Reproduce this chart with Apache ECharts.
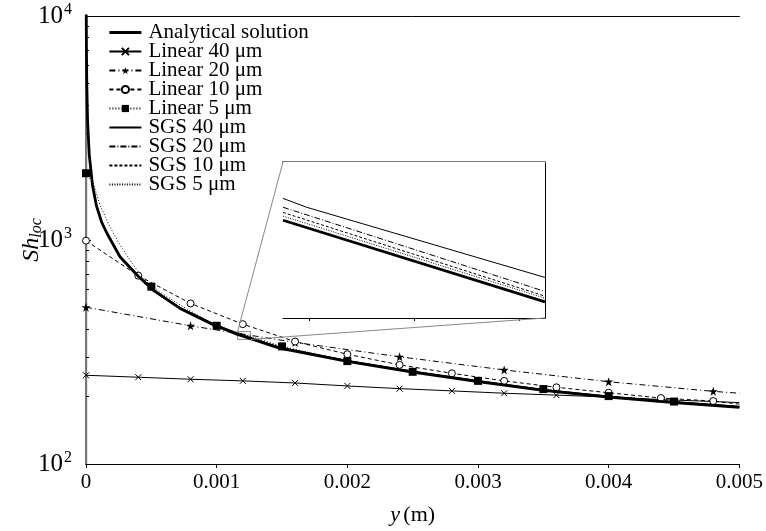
<!DOCTYPE html>
<html><head><meta charset="utf-8">
<script src="https://cdn.jsdelivr.net/npm/echarts@6/dist/echarts.min.js"></script>
<style>html,body{margin:0;padding:0;background:#fff}#c{width:766px;height:531px}</style>
</head><body><div id="c"></div>
<script>
// ---- data ----
const xTickLabels = ['0', '0.001', '0.002', '0.003', '0.004', '0.005'];
const seriesNames = ['Analytical solution', 'Linear 40 \u03bcm', 'Linear 20 \u03bcm', 'Linear 10 \u03bcm', 'Linear 5 \u03bcm', 'SGS 40 \u03bcm', 'SGS 20 \u03bcm', 'SGS 10 \u03bcm', 'SGS 5 \u03bcm'];

const analyticX = [0.000001, 0.000003, 0.000006, 0.000012, 0.000025, 0.00005, 0.00008, 0.00012, 0.00016, 0.00026, 0.00039, 0.00051, 0.00072, 0.00097, 0.00116, 0.00126, 0.00148, 0.002, 0.0025, 0.003, 0.0035, 0.004, 0.0045, 0.005];
const analyticY = [13000, 7500, 5000, 3400, 2400, 1750, 1420, 1200, 1072, 842, 698, 599, 495, 420, 379, 363, 329, 287, 257, 233, 213, 199, 188, 179];
const sgs40Y = [13100, 7580, 5060, 3440, 2430, 1770, 1436, 1213, 1084, 851, 706, 606, 500, 425, 383, 367, 333, 290, 260, 236, 215, 201, 190, 181];
const sgs20Y = [13090, 7550, 5030, 3420, 2415, 1762, 1429, 1208, 1079, 848, 703, 603, 498, 423, 381, 365, 331, 289, 259, 235, 214, 200, 189, 180];
const sgs10Y = [13050, 7530, 5020, 3414, 2410, 1757, 1426, 1205, 1076, 845, 701, 601, 497, 422, 380, 364, 330, 288, 258, 234, 214, 200, 189, 180];
const sgs5Y  = [13030, 7515, 5010, 3407, 2405, 1754, 1423, 1202, 1074, 844, 699, 600, 496, 421, 380, 364, 330, 288, 258, 233, 213, 199, 188, 179];

const lin40X = [0, 0.0004, 0.0008, 0.0012, 0.0016, 0.002, 0.0024, 0.0028, 0.0032, 0.0036, 0.004, 0.0044, 0.0048, 0.005];
const lin40Y = [249, 244, 239, 235, 230, 223, 217, 212, 207, 203, 199, 194, 190, 188];
const lin20X = [0, 0.0008, 0.0016, 0.0024, 0.0032, 0.004, 0.0048, 0.005];
const lin20Y = [501, 414, 349, 301, 263, 233, 211, 207];
const lin10X = [0, 0.0004, 0.0008, 0.0012, 0.0016, 0.002, 0.0024, 0.0028, 0.0032, 0.0036, 0.004, 0.0044, 0.0048, 0.005];
const lin10Y = [993, 693, 521, 421, 352, 309, 277, 254, 235, 220, 208, 197, 191, 185];
const lin5X = [0, 0.000056, 0.000107, 0.000183, 0.00026, 0.000336, 0.000412, 0.0005, 0.00075, 0.001, 0.0015, 0.002, 0.0025, 0.003, 0.0035, 0.004, 0.0045, 0.005];
const lin5Y = [1986, 1791, 1432, 1146, 950, 815, 703, 619, 500, 414, 335, 288, 258, 235, 216, 201, 190, 181];

// inset (zoomed window) data
const insetRangeX = [0.00116, 0.00126];
const insetRangeY = [360, 390];
const insetTickX = [0.00117, 0.00121, 0.00125];
const insetX = [0.00116, 0.00126];
const insetSgs40X = [0.00116, 0.001169, 0.00126];
const insetSgs40Y = [383.0, 381.3, 367.8];
const insetSgs20Y = [381.3, 365.1];
const insetSgs10Y = [380.3, 364.2];
const insetSgs5Y = [379.6, 363.8];
const insetAnalyticY = [378.8, 363.1];

// ---- chart ----
const FONT = 'Liberation Serif';
const chart = echarts.init(document.getElementById('c'));

function pts(xs, ys, step) {
  return xs.map((x, i) => {
    const item = { value: [x, ys[i]] };
    if (step) {
      const r = x / step;
      if (Math.abs(r - Math.round(r)) > 1e-6 || i === xs.length - 1) item.symbol = 'none';
    }
    return item;
  });
}
function pairs(xs, ys) { return xs.map((x, i) => [x, ys[i]]); }

const STAR = 'path://M5,0L6.2,3.6L10,3.6L6.9,5.9L8.1,9.5L5,7.3L1.9,9.5L3.1,5.9L0,3.6L3.8,3.6Z';
const CROSS = 'path://M0,0L10,10M10,0L0,10';
const THICK = 2.8;

function line(name, data, lineStyle, extra) {
  return Object.assign({
    name, type: 'line', data, xAxisIndex: 0, yAxisIndex: 0,
    symbol: 'none', color: '#000', lineStyle: Object.assign({ color: '#000', width: 1 }, lineStyle),
    itemStyle: { color: '#000' }, smooth: false, animation: false, clip: true, z: 3
  }, extra || {});
}
function insetLine(name, xs, ys, lineStyle) {
  return {
    name, type: 'line', data: pairs(xs, ys), xAxisIndex: 2, yAxisIndex: 2,
    symbol: 'none', lineStyle: Object.assign({ color: '#000', width: 1 }, lineStyle),
    animation: false, z: 5, silent: true
  };
}
const noSym = { color: 'rgba(0,0,0,0)', borderWidth: 0, opacity: 0 };
const legendData = seriesNames.map((n, i) => {
  if (i === 0) return { name: n, itemStyle: noSym, lineStyle: { width: THICK } };
  if (i >= 5) return { name: n, itemStyle: noSym };
  return { name: n };
});

const option = {
  backgroundColor: '#fff',
  animation: false,
  grid: [
    { left: 86, right: 25, top: 16, bottom: 67 },
    { left: 283, top: 162, width: 262, height: 156, show: true, backgroundColor: '#fff', borderWidth: 0, z: 4 }
  ],
  legend: {
    data: legendData, orient: 'vertical', left: 103, top: 17,
    itemWidth: 32, itemHeight: 9, itemGap: -2,
    textStyle: { fontFamily: FONT, fontSize: 21, color: '#000', lineHeight: 19, padding: [0, 0, 0, 2] },
    inactiveColor: '#000', selectedMode: false
  },
  xAxis: [
    { type: 'value', gridIndex: 0, min: 0, max: 0.005, interval: 0.001,
      axisLine: { lineStyle: { color: '#000', width: 1.2 } },
      axisTick: { show: true, inside: false, length: 4, lineStyle: { color: '#000' } },
      axisLabel: { fontFamily: FONT, fontSize: 21, color: '#000', margin: 8,
        formatter: v => xTickLabels[Math.round(v / 0.001)] },
      splitLine: { show: false },
      name: '{i|y} {n|(m)}', nameLocation: 'middle', nameGap: 40,
      nameTextStyle: { rich: { i: { fontFamily: FONT, fontSize: 22, fontStyle: 'italic', color: '#000' },
                               n: { fontFamily: FONT, fontSize: 22, color: '#000' } } } },
    { type: 'value', gridIndex: 0, min: 0, max: 0.005, position: 'top',
      axisLine: { lineStyle: { color: '#000', width: 1 } }, axisTick: { show: false },
      axisLabel: { show: false }, splitLine: { show: false } },
    { type: 'value', gridIndex: 1, min: insetRangeX[0], max: insetRangeX[1],
      axisLine: { onZero: false, lineStyle: { color: '#000', width: 1 } },
      axisTick: { show: true, length: 3, customValues: insetTickX, lineStyle: { color: '#000' } },
      axisLabel: { show: false }, splitLine: { show: false } },
    { type: 'value', gridIndex: 1, min: insetRangeX[0], max: insetRangeX[1], position: 'top',
      axisLine: { lineStyle: { color: '#777', width: 2 } }, axisTick: { show: false },
      axisLabel: { show: false }, splitLine: { show: false } }
  ],
  yAxis: [
    { type: 'log', gridIndex: 0, min: 100, max: 10000, logBase: 10,
      axisLine: { lineStyle: { color: '#000', width: 1.2 } },
      axisTick: { show: true, inside: true, length: 5, lineStyle: { color: '#000' } },
      minorTick: { show: true, splitNumber: 9, length: 3, lineStyle: { color: '#000' } },
      axisLabel: { margin: 14, formatter: v => '{b|10}{s|' + Math.round(Math.log10(v)) + '}',
        rich: { b: { fontFamily: FONT, fontSize: 25, color: '#000' },
                s: { fontFamily: FONT, fontSize: 16, color: '#000', verticalAlign: 'bottom', padding: [0, 0, 12, 1] } } },
      splitLine: { show: false },
      name: '{i|Sh}{s|loc}', nameLocation: 'middle', nameGap: 41, nameRotate: 90, nameMoveOverlap: false,
      nameTextStyle: { rich: { i: { fontFamily: FONT, fontSize: 24, fontStyle: 'italic', color: '#000' },
                               s: { fontFamily: FONT, fontSize: 16, fontStyle: 'italic', color: '#000', verticalAlign: 'top', padding: [10, 0, 0, 0] } } } },
    { type: 'log', gridIndex: 0, min: 100, max: 10000, logBase: 10, position: 'right',
      axisLine: { lineStyle: { color: '#777', width: 2 } }, axisTick: { show: false },
      axisLabel: { show: false }, splitLine: { show: false } },
    { type: 'value', gridIndex: 1, min: insetRangeY[0], max: insetRangeY[1], interval: 10,
      axisLine: { onZero: false, lineStyle: { color: '#000', width: 1 } },
      axisTick: { show: true, inside: true, length: 3, lineStyle: { color: '#000' } },
      axisLabel: { show: false }, splitLine: { show: false } },
    { type: 'value', gridIndex: 1, min: insetRangeY[0], max: insetRangeY[1], position: 'right',
      axisLine: { lineStyle: { color: '#000', width: 1 } }, axisTick: { show: false },
      axisLabel: { show: false }, splitLine: { show: false } }
  ],
  series: [
    line(seriesNames[5], pairs(analyticX, sgs40Y), { width: 1 }),
    line(seriesNames[6], pairs(analyticX, sgs20Y), { type: [6, 2, 1, 2] }),
    line(seriesNames[7], pairs(analyticX, sgs10Y), { type: [3, 2] }),
    line(seriesNames[8], pairs(analyticX, sgs5Y), { type: [1, 1.5] }),
    line(seriesNames[1], pts(lin40X, lin40Y, 0.0004), {}, { symbol: CROSS, symbolSize: 6,
      itemStyle: { color: '#000', borderColor: '#000', borderWidth: 1 } }),
    line(seriesNames[2], pts(lin20X, lin20Y, 0.0008), { type: [6, 3, 1, 3] }, { symbol: STAR, symbolSize: 9,
      itemStyle: { color: '#000' } }),
    line(seriesNames[3], pts(lin10X, lin10Y, 0.0004), { type: [4, 3] }, { symbol: 'circle', symbolSize: 7,
      itemStyle: { color: '#fff', borderColor: '#000', borderWidth: 1 } }),
    line(seriesNames[4], pts(lin5X, lin5Y, 0.0005), { type: [1, 2] }, { symbol: 'rect', symbolSize: 8,
      itemStyle: { color: '#000' } }),
    line(seriesNames[0], pairs(analyticX, analyticY), { width: THICK }, { z: 4 }),
    // zoom window outline on the main chart
    { name: 'zoombox', type: 'line', xAxisIndex: 0, yAxisIndex: 0, symbol: 'none', silent: true,
      data: [[insetRangeX[0], insetRangeY[0]], [insetRangeX[1], insetRangeY[0]], [insetRangeX[1], insetRangeY[1]], [insetRangeX[0], insetRangeY[1]], [insetRangeX[0], insetRangeY[0]]],
      lineStyle: { color: '#888', width: 1 }, z: 2 },
    insetLine('i-sgs40', insetSgs40X, insetSgs40Y, {}),
    insetLine('i-sgs20', insetX, insetSgs20Y, { type: [6, 2, 1, 2] }),
    insetLine('i-sgs10', insetX, insetSgs10Y, { type: [3, 2] }),
    insetLine('i-sgs5', insetX, insetSgs5Y, { type: [1, 1.5] }),
    insetLine('i-analytic', insetX, insetAnalyticY, { width: THICK })
  ]
};
chart.setOption(option);

// connector lines from the zoom window to the inset corners
const a1 = chart.convertToPixel({ gridIndex: 0 }, [insetRangeX[0], insetRangeY[1]]);
const b1 = chart.convertToPixel({ gridIndex: 1 }, [insetRangeX[0], insetRangeY[1]]);
const a2 = chart.convertToPixel({ gridIndex: 0 }, [insetRangeX[1], insetRangeY[0]]);
const b2 = chart.convertToPixel({ gridIndex: 1 }, [insetRangeX[1], insetRangeY[0]]);
chart.setOption({
  graphic: [
    { type: 'line', shape: { x1: a1[0], y1: a1[1], x2: b1[0], y2: b1[1] }, style: { stroke: '#888', lineWidth: 1 }, z: 10 },
    { type: 'line', shape: { x1: a2[0], y1: a2[1], x2: b2[0], y2: b2[1] }, style: { stroke: '#888', lineWidth: 1 }, z: 10 }
  ]
});
</script></body></html>
